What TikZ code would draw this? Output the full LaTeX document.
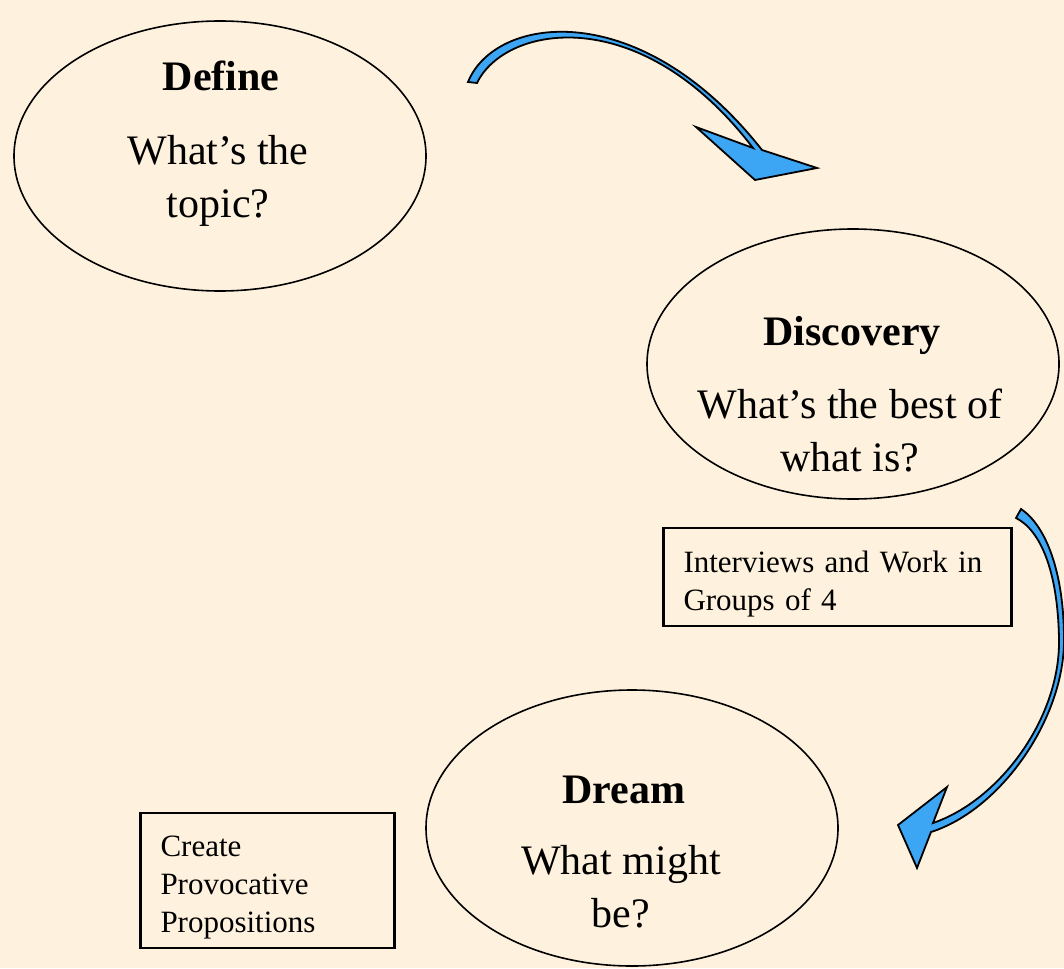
\documentclass[tikz,border=0pt]{standalone}
\usepackage{fontspec}
\setmainfont{Liberation Serif}
\usetikzlibrary{shapes.geometric}

\definecolor{paper}{RGB}{254,242,222}
\definecolor{arrowblue}{RGB}{60,166,245}

\tikzset{
  oval/.style={draw, ellipse, line width=0.8pt, minimum width=206pt, minimum height=135pt, inner sep=0pt},
  head/.style={anchor=base, font=\fontsize{21}{26.5}\selectfont\bfseries},
  body/.style={anchor=base, align=center, font=\fontsize{21}{26.5}\selectfont},
  note/.style={draw, line width=1.2pt, align=left, inner xsep=10pt, inner ysep=0pt,
    font=\fontsize{15.5}{19}\selectfont, execute at begin node={\rule{0pt}{17.5pt}}},
  curvedarrow/.style={fill=arrowblue, draw=black, line width=0.9pt, line join=miter}
}

\begin{document}
\begin{tikzpicture}[x=0.5pt,y=-0.5pt]

% Draw the background
\fill[paper] (0,0) rectangle (1064,968);
\useasboundingbox (0,0) rectangle (1064,968);

% Draw the three stages
\node[oval] (define) at (220,156) {};
\node[oval] (discovery) at (853,364) {};
\node[oval, minimum height=138pt] (dream) at (632,828) {};

% Write the stage texts (body nodes sit on their last line)
\node[head] (definehead) at (221,91) {Define};
\node[body] (definebody) at (218,218) {What's the\\topic?};
\node[head] (discoveryhead) at (852,345) {Discovery};
\node[body] (discoverybody) at (850,471) {What's the best of\\what is?};
\node[head] (dreamhead) at (624,803) {Dream};
\node[body] (dreambody) at (621,927) {What might\\be?};

% Draw the notes
\node[note, text width=154pt, minimum height=49pt] (interviews) at (837.5,577) {Interviews and Work in\\Groups of 4};
\node[note, text width=107pt, minimum height=67.5pt] (propositions) at (267.5,880.5) {Create\\Provocative\\Propositions};

% Draw the curved arrows
\draw[curvedarrow] (468,82) .. controls (495,15) and (640,-5) .. (762,150)
  -- (817,168) -- (755,180) -- (696,127) -- (753,148)
  .. controls (640,0) and (505,25) .. (477,83) -- cycle;
\draw[curvedarrow] (1021,509) .. controls (1045,525) and (1064,570) .. (1064,640)
  .. controls (1064,720) and (1000,810) .. (931,832)
  -- (917,868) -- (898,825) -- (947,787) -- (933,823)
  .. controls (1000,800) and (1060,718) .. (1059,640)
  .. controls (1058,570) and (1040,530) .. (1016,518) -- cycle;

\end{tikzpicture}
\end{document}
